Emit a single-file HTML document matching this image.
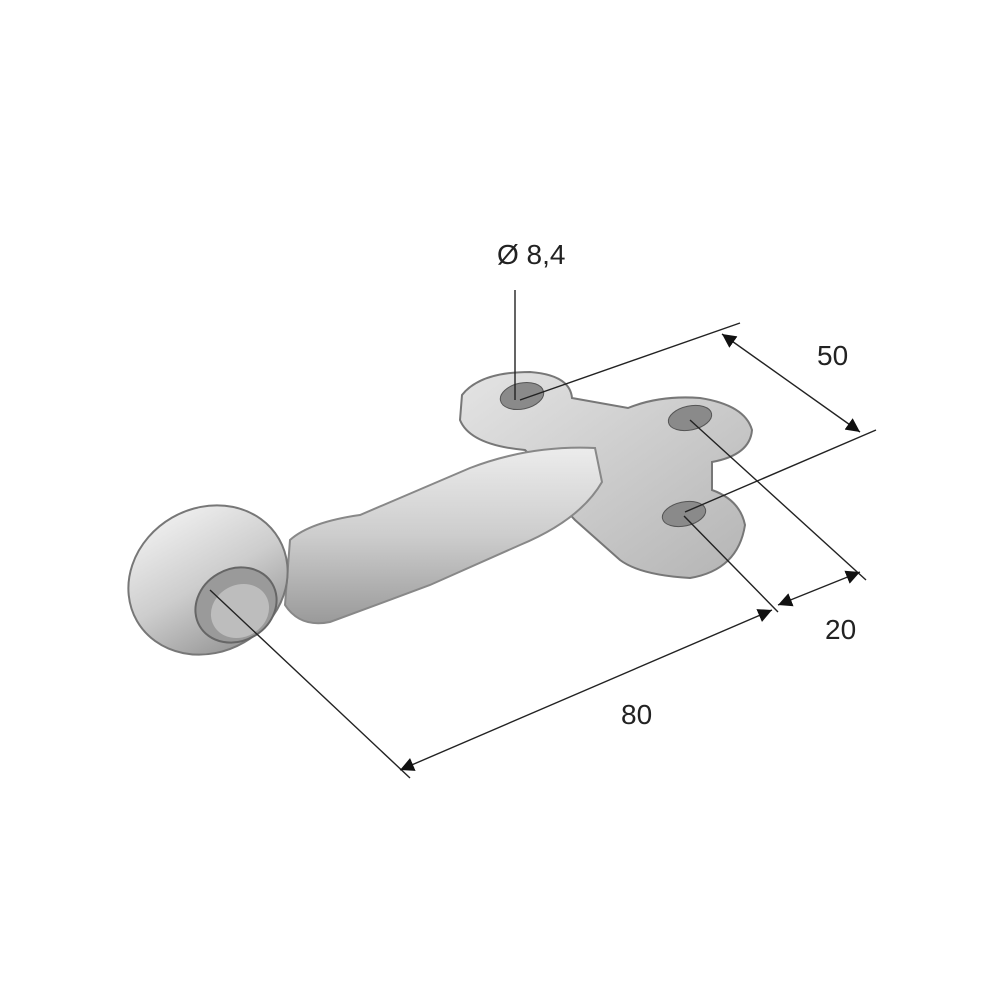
<!DOCTYPE html>
<html><head><meta charset="utf-8"><style>
html,body{margin:0;padding:0;background:#fff;}
svg{display:block}
text{font-family:"Liberation Sans",sans-serif;fill:#222}
</style></head><body>
<svg width="1000" height="1000" viewBox="0 0 1000 1000" xmlns="http://www.w3.org/2000/svg">
<defs>
<linearGradient id="m" x1="0" y1="0" x2="0" y2="1">
<stop offset="0" stop-color="#ececec"/><stop offset="0.5" stop-color="#cdcdcd"/><stop offset="1" stop-color="#9a9a9a"/>
</linearGradient>
<linearGradient id="p" x1="0" y1="0" x2="1" y2="1">
<stop offset="0" stop-color="#e4e4e4"/><stop offset="1" stop-color="#b4b4b4"/>
</linearGradient>
<marker id="a" viewBox="0 0 10 10" refX="10" refY="5" markerWidth="14" markerHeight="14" markerUnits="userSpaceOnUse" orient="auto-start-reverse">
<path d="M0,0 L10,5 L0,10 z" fill="#111"/></marker>
</defs>
<!-- T plate -->
<path d="M462,395 Q480,372 530,372 Q570,375 572,398 L628,408 Q660,395 700,398 Q745,405 752,430 Q750,455 712,462 L712,490 Q740,500 745,525 Q738,570 690,578 Q640,575 620,560 L575,520 Q560,505 565,490 L525,450 Q470,445 460,420 Z" fill="url(#p)" stroke="#777" stroke-width="2"/>
<!-- shank -->
<path d="M290,540 Q310,522 360,515 L470,468 Q530,445 595,448 L602,482 Q580,520 520,545 L430,585 L330,622 Q300,628 285,605 Z" fill="url(#m)" stroke="#888" stroke-width="2"/>
<!-- eye -->
<ellipse cx="208" cy="580" rx="82" ry="72" transform="rotate(-30 208 580)" fill="url(#m)" stroke="#777" stroke-width="2"/>
<ellipse cx="236" cy="605" rx="42" ry="36" transform="rotate(-30 236 605)" fill="#9a9a9a" stroke="#666" stroke-width="2"/>
<ellipse cx="240" cy="611" rx="30" ry="26" transform="rotate(-30 240 611)" fill="#bdbdbd"/>
<!-- holes -->
<ellipse cx="522" cy="396" rx="22" ry="13" transform="rotate(-12 522 396)" fill="#8a8a8a" stroke="#555"/>
<ellipse cx="690" cy="418" rx="22" ry="12" transform="rotate(-12 690 418)" fill="#8a8a8a" stroke="#555"/>
<ellipse cx="684" cy="514" rx="22" ry="12" transform="rotate(-12 684 514)" fill="#8a8a8a" stroke="#555"/>
<!-- dimension / extension lines -->
<g stroke="#222" stroke-width="1.4" fill="none">
<line x1="515" y1="290" x2="515" y2="400"/>
<line x1="520" y1="400" x2="740" y2="323"/>
<line x1="685" y1="512" x2="876" y2="430"/>
<line x1="690" y1="420" x2="866" y2="580"/>
<line x1="684" y1="516" x2="778" y2="612"/>
<line x1="210" y1="590" x2="410" y2="778"/>
<line x1="722" y1="334" x2="860" y2="432" marker-start="url(#a)" marker-end="url(#a)"/>
<line x1="778" y1="605" x2="860" y2="572" marker-start="url(#a)" marker-end="url(#a)"/>
<line x1="400" y1="770" x2="772" y2="610" marker-start="url(#a)" marker-end="url(#a)"/>
</g>
<text x="497" y="264" font-size="28">Ø 8,4</text>
<text x="817" y="365" font-size="28">50</text>
<text x="825" y="639" font-size="28">20</text>
<text x="621" y="724" font-size="28">80</text>
</svg>
</body></html>
